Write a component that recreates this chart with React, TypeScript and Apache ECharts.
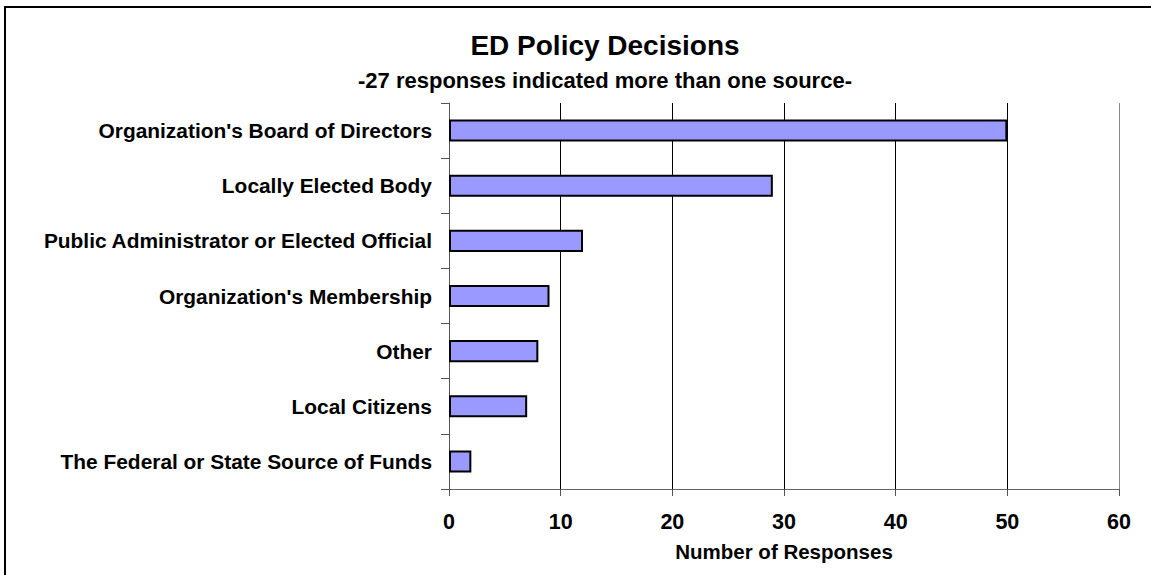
import React, { useEffect, useRef } from "react";
import * as echarts from "echarts";

const categories = [
  "Organization's Board of Directors",
  "Locally Elected Body",
  "Public Administrator or Elected Official",
  "Organization's Membership",
  "Other",
  "Local Citizens",
  "The Federal or State Source of Funds",
];
const responses = [50, 29, 12, 9, 8, 7, 2];
const titleText = "ED Policy Decisions";
const subtitleText = "-27 responses indicated more than one source-";
const xAxisName = "Number of Responses";

const FONT = "'Liberation Sans', Arial, sans-serif";

export default function App() {
  const ref = useRef<HTMLDivElement>(null);
  useEffect(() => {
    if (!ref.current) return;
    const chart = echarts.init(ref.current, undefined, { renderer: "svg" });
    chart.setOption({
      animation: false,
      backgroundColor: "#ffffff",
      grid: { left: 449, right: 32, top: 103, bottom: 86, containLabel: false },
      graphic: [
        {
          type: "rect",
          shape: { x: 5, y: 7, width: 1200, height: 620 },
          style: { fill: "none", stroke: "#000", lineWidth: 2 },
          silent: true,
        },
        {
          type: "text",
          x: 605,
          y: 45,
          style: {
            text: titleText,
            font: `bold 28px ${FONT}`,
            fill: "#000",
            align: "center",
            verticalAlign: "middle",
          },
        },
        {
          type: "text",
          x: 605,
          y: 80,
          style: {
            text: subtitleText,
            font: `bold 22px ${FONT}`,
            fill: "#000",
            align: "center",
            verticalAlign: "middle",
          },
        },
      ],
      xAxis: {
        type: "value",
        min: 0,
        max: 60,
        interval: 10,
        name: xAxisName,
        nameLocation: "middle",
        nameGap: 52,
        nameTextStyle: { fontFamily: FONT, fontWeight: "bold", fontSize: 20.5, color: "#000" },
        axisLine: { show: true, lineStyle: { color: "#666", width: 1 } },
        axisTick: { show: true, length: 7, lineStyle: { color: "#555" } },
        axisLabel: { margin: 22, fontFamily: FONT, fontWeight: "bold", fontSize: 21.5, color: "#000" },
        splitLine: {
          show: true,
          lineStyle: { color: ["#000", "#000", "#000", "#000", "#000", "#000", "#888"], width: 1 },
        },
      },
      yAxis: {
        type: "category",
        data: categories,
        inverse: true,
        axisLine: { show: true, lineStyle: { color: "#555", width: 1 } },
        axisTick: { show: true, length: 8, alignWithLabel: false, lineStyle: { color: "#555" } },
        axisLabel: { margin: 17, fontFamily: FONT, fontWeight: "bold", fontSize: 20.9, color: "#000" },
        splitLine: { show: false },
      },
      series: [
        {
          type: "bar",
          data: responses,
          barWidth: "40%",
          itemStyle: { color: "#9999FF", borderColor: "#000", borderWidth: 2 },
        },
      ],
    });
    return () => chart.dispose();
  }, []);
  return (
    <div
      ref={ref}
      style={{ position: "absolute", left: 0, top: 0, width: 1151, height: 575 }}
    />
  );
}
